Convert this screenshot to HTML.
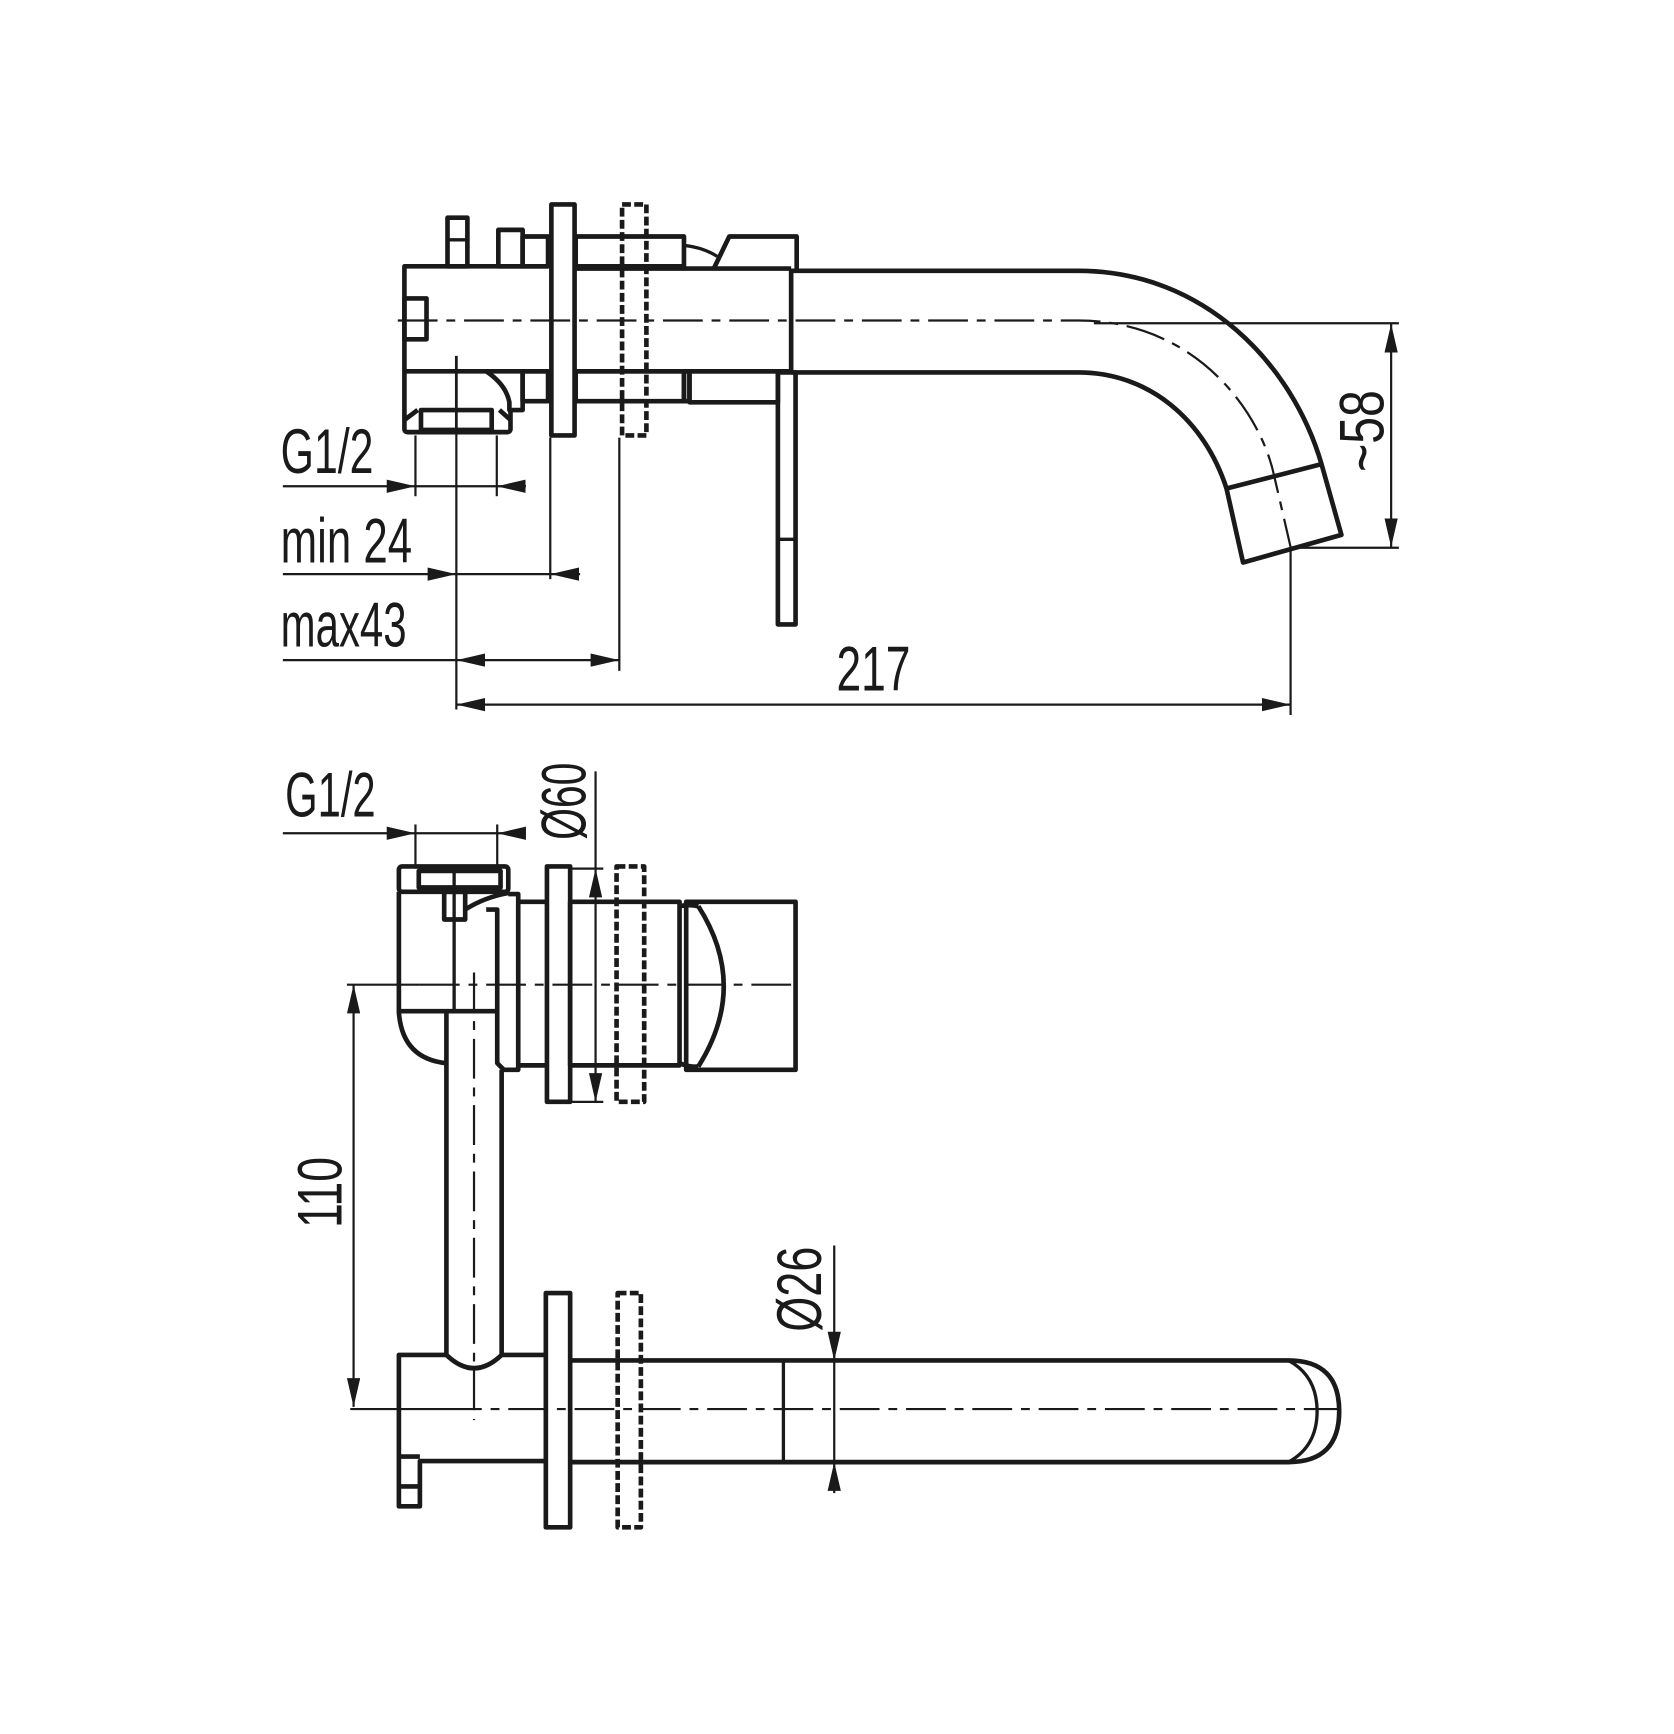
<!DOCTYPE html>
<html><head><meta charset="utf-8"><style>
html,body{margin:0;padding:0;background:#fff;}
svg{display:block;}
text{font-family:"Liberation Sans Narrow","Liberation Sans",sans-serif;font-size:57px;fill:#1a1a1a;}
</style></head><body>
<svg width="1674" height="1734" viewBox="0 0 1515 1569" preserveAspectRatio="none" xmlns="http://www.w3.org/2000/svg">
<defs>
<marker id="a" viewBox="0 0 26 12" refX="26" refY="6" markerWidth="26" markerHeight="12" markerUnits="userSpaceOnUse" orient="auto-start-reverse"><path d="M0,0 L26,6 L0,12 Z" fill="#1a1a1a"/></marker>
</defs>
<g fill="none" stroke="#1a1a1a" stroke-linejoin="round">
<!-- ============ TOP VIEW ============ -->
<g stroke-width="4.2">
  <!-- body left -->
  <path d="M496,241 H366 V388 Q366,391 369,391 H459 Q462,391 462,388 V371"/>
  <rect x="366" y="270" width="20" height="37"/>
  <line x1="366" y1="336" x2="496" y2="336"/>
  <rect x="381" y="371" width="64" height="18"/>
  <path d="M366,380 L378,371 M462,380 L452,371"/>
  <path d="M440,336 Q458,348 461,364 V371 H473 V336"/>
  <rect x="473" y="336" width="23" height="27"/>
  <!-- pins -->
  <rect x="405" y="197" width="18" height="44"/>
  <line x1="405" y1="217" x2="423" y2="217" stroke-width="3"/>
  <rect x="451" y="208" width="22" height="33"/>
  <rect x="473" y="214" width="23" height="27"/>
  <!-- flange -->
  <rect x="499" y="185" width="21" height="209"/>
  <!-- body right of flange -->
  <rect x="521" y="214" width="98" height="27"/>
  <line x1="521" y1="243" x2="716" y2="243"/>
  <line x1="521" y1="336" x2="716" y2="336"/>
  <rect x="521" y="336" width="98" height="27"/>
  <rect x="619" y="336" width="5" height="27"/>
  <rect x="624" y="336" width="80" height="28"/>
  <path d="M619,222 Q637,224 649,232" stroke-width="3"/>
  <!-- handle -->
  <path d="M646,243 L660,214 H721 V243"/>
  <!-- spout -->
  <line x1="716" y1="243" x2="716" y2="336"/>
  <path d="M716,245 H976 C1090,245 1170,330 1196,420 L1214,484 L1125,509 L1110,442 C1090,380 1040,337 976,337 H716"/>
  <line x1="1110" y1="442" x2="1196" y2="420"/>
  <!-- lever -->
  <rect x="704" y="337" width="16" height="228"/>
  <line x1="704" y1="488" x2="720" y2="488" stroke-width="3"/>
</g>
<rect x="563" y="185" width="22" height="209" stroke-width="4.2" stroke-dasharray="8,3"/>
<!-- centerline top -->
<path d="M360,290 H976 C1080,290 1140,370 1153,430 L1168,495" stroke-width="2" stroke-dasharray="36,8,8,8"/>
<line x1="413" y1="322" x2="413" y2="391" stroke-width="2.5"/>
<!-- dims top -->
<g stroke-width="2">
  <line x1="990" y1="292.5" x2="1266" y2="292.5"/>
  <line x1="1170" y1="495.6" x2="1266" y2="495.6"/>
  <line x1="1259" y1="293" x2="1259" y2="495" marker-start="url(#a)" marker-end="url(#a)"/>
  <line x1="1168" y1="495" x2="1168" y2="647"/>
  <line x1="413" y1="391" x2="413" y2="642"/>
  <line x1="413" y1="637.6" x2="1168" y2="637.6" marker-start="url(#a)" marker-end="url(#a)"/>
  <line x1="376" y1="394" x2="376" y2="449"/>
  <line x1="449.6" y1="394" x2="449.6" y2="449"/>
  <line x1="256" y1="440" x2="376" y2="440" marker-end="url(#a)"/>
  <line x1="376" y1="440" x2="449.6" y2="440"/>
  <line x1="476" y1="440" x2="449.6" y2="440" marker-end="url(#a)"/>
  <line x1="498" y1="396" x2="498" y2="524"/>
  <line x1="256" y1="519.5" x2="413" y2="519.5" marker-end="url(#a)"/>
  <line x1="413" y1="519.5" x2="498" y2="519.5"/>
  <line x1="525" y1="519.5" x2="498" y2="519.5" marker-end="url(#a)"/>
  <line x1="560.5" y1="396" x2="560.5" y2="607"/>
  <line x1="256" y1="597.3" x2="413" y2="597.3"/>
  <line x1="413" y1="597.3" x2="560.5" y2="597.3" marker-start="url(#a)" marker-end="url(#a)"/>
</g>

<!-- ============ BOTTOM VIEW ============ -->
<g stroke-width="4.2">
  <rect x="361" y="784" width="99" height="23" rx="3"/>
  <rect x="379" y="788" width="74" height="15"/>
  <rect x="402" y="807" width="19" height="25"/>
  <path d="M361,807 V916 Q364,958 404,962"/>
  <line x1="361" y1="915" x2="450" y2="915"/>
  <path d="M421,823 Q438,812 460,808"/>
  <path d="M440,823 H450 V962 L456,968 H469 V809 H460"/>
  <!-- pipe -->
  <path d="M404,915 V1226 Q429,1250 454,1226 V968"/>
  <line x1="469" y1="816" x2="495" y2="816"/>
  <line x1="469" y1="964" x2="495" y2="964"/>
  <rect x="495" y="784" width="21" height="213"/>
  <rect x="516" y="816" width="99" height="148"/>
  <path d="M615,820 Q624,818 632,820 M615,962 Q624,966 632,965"/>
  <rect x="621" y="816" width="99" height="152"/>
  <path d="M632,820 Q678,892 632,965"/>
  <!-- bottom body -->
  <path d="M404,1226 H361 V1363 H380 V1322 H494"/>
  <line x1="361" y1="1318" x2="380" y2="1318"/>
  <line x1="361" y1="1345" x2="380" y2="1345"/>
  <line x1="454" y1="1226" x2="494" y2="1226"/>
  <rect x="494" y="1170" width="22" height="212"/>
  <path d="M516,1231 H1166 Q1212,1231 1212,1277 Q1212,1323 1166,1323 H516"/>
  <path d="M1166,1231 Q1192,1245 1192,1277 Q1192,1309 1166,1323" stroke-width="3"/>
  <line x1="709" y1="1231" x2="709" y2="1323" stroke-width="3"/>
</g>
<rect x="558" y="784" width="25" height="213" stroke-width="4.2" stroke-dasharray="8,3"/>
<rect x="559" y="1170" width="21" height="212" stroke-width="4.2" stroke-dasharray="8,3"/>
<line x1="411" y1="784" x2="411" y2="915" stroke-width="3"/>
<!-- centerlines -->
<g stroke-width="2">
  <line x1="314" y1="891" x2="380" y2="891"/>
  <line x1="380" y1="891" x2="721" y2="891" stroke-dasharray="36,8,8,8"/>
  <line x1="429" y1="880" x2="429" y2="1285" stroke-dasharray="36,8,8,8"/>
  <line x1="317" y1="1275" x2="400" y2="1275"/>
  <line x1="400" y1="1275" x2="1210" y2="1275" stroke-dasharray="36,8,8,8"/>
</g>
<!-- dims bottom -->
<g stroke-width="2">
  <line x1="376" y1="746" x2="376" y2="786"/>
  <line x1="450" y1="746" x2="450" y2="786"/>
  <line x1="256" y1="754" x2="376" y2="754" marker-end="url(#a)"/>
  <line x1="376" y1="754" x2="450" y2="754"/>
  <line x1="476" y1="754" x2="450" y2="754" marker-end="url(#a)"/>
  <line x1="516" y1="786" x2="546" y2="786"/>
  <line x1="516" y1="997" x2="546" y2="997"/>
  <line x1="539" y1="698" x2="539" y2="786"/>
  <line x1="539" y1="786" x2="539" y2="997" marker-start="url(#a)" marker-end="url(#a)"/>
  <line x1="320" y1="891" x2="320" y2="1273" marker-start="url(#a)" marker-end="url(#a)"/>
  <line x1="755" y1="1127" x2="755" y2="1231" marker-end="url(#a)"/>
  <line x1="755" y1="1231" x2="755" y2="1323"/>
  <line x1="755" y1="1351" x2="755" y2="1323" marker-end="url(#a)"/>
</g>
</g>
<!-- texts -->
<text x="254" y="428" textLength="84" lengthAdjust="spacingAndGlyphs">G1/2</text>
<text x="254" y="509" textLength="119" lengthAdjust="spacingAndGlyphs">min 24</text>
<text x="254" y="585" textLength="114" lengthAdjust="spacingAndGlyphs">max43</text>
<text x="757" y="625" textLength="67" lengthAdjust="spacingAndGlyphs">217</text>
<text transform="translate(1252,427) rotate(-90)" textLength="74" lengthAdjust="spacingAndGlyphs">~58</text>
<text x="258" y="739" textLength="82" lengthAdjust="spacingAndGlyphs">G1/2</text>
<text transform="translate(530,760) rotate(-90)" textLength="70" lengthAdjust="spacingAndGlyphs">Ø60</text>
<text transform="translate(309,1111) rotate(-90)" textLength="64" lengthAdjust="spacingAndGlyphs">110</text>
<text transform="translate(743,1205) rotate(-90)" textLength="77" lengthAdjust="spacingAndGlyphs">Ø26</text>
</svg>
</body></html>
